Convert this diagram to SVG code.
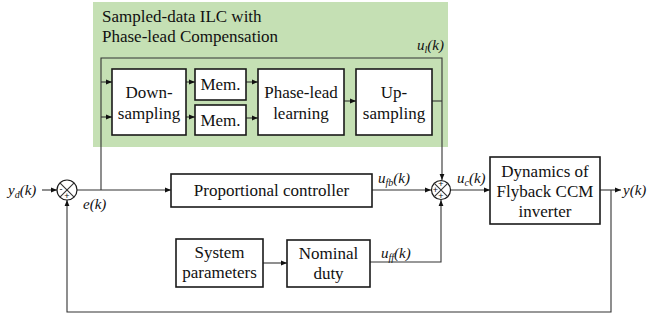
<svg xmlns="http://www.w3.org/2000/svg" width="647" height="320" viewBox="0 0 647 320" style="font-family:'Liberation Serif',serif !important">
  <style>
    text, tspan { font-family: 'Liberation Serif', serif !important; }
    .sign { font-family: 'Liberation Sans', sans-serif !important; font-size: 9px; text-anchor: middle; }
    .blk { fill: #ffffff; stroke: #1a1a1a; stroke-width: 1.6; }
  </style>
  <defs>
    <marker id="arr" viewBox="0 0 10 10" refX="10" refY="5" markerWidth="6" markerHeight="6" orient="auto" markerUnits="userSpaceOnUse">
      <path d="M0,1 L10,5 L0,9 Z" fill="#111111"/>
    </marker>
  </defs>

  <!-- ILC region background -->
  <g id="ilc-region" fill="#111111">
    <rect x="93" y="2" width="355" height="145" fill="#c5e0b4"/>
    <text style="font-family:'Liberation Serif',serif !important" font-family="Liberation Serif" font-size="17" x="102" y="22">Sampled-data ILC with</text>
    <text style="font-family:'Liberation Serif',serif !important" font-family="Liberation Serif" font-size="17" x="102" y="42">Phase-lead Compensation</text>
  </g>

  <!-- connectors -->
  <g id="connectors" fill="none" stroke="#333333" stroke-width="1.1">
    <path d="M101,190 V58 H442 V180" marker-end="url(#arr)"/>
    <path d="M101,82 H112" marker-end="url(#arr)"/>
    <path d="M101,117 H112" marker-end="url(#arr)"/>
    <path d="M186,82 H195" marker-end="url(#arr)"/>
    <path d="M186,117 H195" marker-end="url(#arr)"/>
    <path d="M246,82 H258" marker-end="url(#arr)"/>
    <path d="M246,118 H258" marker-end="url(#arr)"/>
    <path d="M344,101 H356" marker-end="url(#arr)"/>
    <path d="M432,101 H442"/>
    <path d="M42,190 H57" marker-end="url(#arr)"/>
    <path d="M77,190 H171" marker-end="url(#arr)"/>
    <path d="M372,190 H431" marker-end="url(#arr)"/>
    <path d="M451,190 H490" marker-end="url(#arr)"/>
    <path d="M600,190 H621" marker-end="url(#arr)"/>
    <path d="M611,190 V312 H67 V200" marker-end="url(#arr)"/>
    <path d="M263,263 H287" marker-end="url(#arr)"/>
    <path d="M370,262 H441 V200" marker-end="url(#arr)"/>
  </g>

  <!-- blocks: white boxes with centred serif labels -->
  <g id="blocks" text-anchor="middle" fill="#111111">
    <g id="down-sampling">
      <rect class="blk" x="112" y="69" width="74" height="66"/>
      <text style="font-family:'Liberation Serif',serif !important" font-family="Liberation Serif" font-size="17" x="149" y="98">Down-</text>
      <text style="font-family:'Liberation Serif',serif !important" font-family="Liberation Serif" font-size="17" x="149" y="119">sampling</text>
    </g>
    <g id="mem-1">
      <rect class="blk" x="195" y="69" width="51" height="31"/>
      <text style="font-family:'Liberation Serif',serif !important" font-family="Liberation Serif" font-size="17" x="220.5" y="90">Mem.</text>
    </g>
    <g id="mem-2">
      <rect class="blk" x="195" y="105" width="51" height="30"/>
      <text style="font-family:'Liberation Serif',serif !important" font-family="Liberation Serif" font-size="17" x="220.5" y="126">Mem.</text>
    </g>
    <g id="phase-lead-learning">
      <rect class="blk" x="258" y="69" width="86" height="66"/>
      <text style="font-family:'Liberation Serif',serif !important" font-family="Liberation Serif" font-size="17" x="301" y="98">Phase-lead</text>
      <text style="font-family:'Liberation Serif',serif !important" font-family="Liberation Serif" font-size="17" x="301" y="119">learning</text>
    </g>
    <g id="up-sampling">
      <rect class="blk" x="356" y="69" width="76" height="66"/>
      <text style="font-family:'Liberation Serif',serif !important" font-family="Liberation Serif" font-size="17" x="394" y="98">Up-</text>
      <text style="font-family:'Liberation Serif',serif !important" font-family="Liberation Serif" font-size="17" x="394" y="119">sampling</text>
    </g>
    <g id="proportional-controller">
      <rect class="blk" x="171" y="174" width="201" height="33"/>
      <text style="font-family:'Liberation Serif',serif !important" font-family="Liberation Serif" font-size="17" x="271.5" y="196">Proportional controller</text>
    </g>
    <g id="plant">
      <rect class="blk" x="490" y="157" width="110" height="67"/>
      <text style="font-family:'Liberation Serif',serif !important" font-family="Liberation Serif" font-size="17" x="545" y="177">Dynamics of</text>
      <text style="font-family:'Liberation Serif',serif !important" font-family="Liberation Serif" font-size="17" x="545" y="197">Flyback CCM</text>
      <text style="font-family:'Liberation Serif',serif !important" font-family="Liberation Serif" font-size="17" x="545" y="217">inverter</text>
    </g>
    <g id="system-parameters">
      <rect class="blk" x="176" y="239" width="87" height="48"/>
      <text style="font-family:'Liberation Serif',serif !important" font-family="Liberation Serif" font-size="17" x="219.5" y="258">System</text>
      <text style="font-family:'Liberation Serif',serif !important" font-family="Liberation Serif" font-size="17" x="219.5" y="278">parameters</text>
    </g>
    <g id="nominal-duty">
      <rect class="blk" x="287" y="240" width="83" height="47"/>
      <text style="font-family:'Liberation Serif',serif !important" font-family="Liberation Serif" font-size="17" x="328.5" y="259">Nominal</text>
      <text style="font-family:'Liberation Serif',serif !important" font-family="Liberation Serif" font-size="17" x="328.5" y="279">duty</text>
    </g>
  </g>

  <!-- summing junctions -->
  <g id="sum-error" fill="#111111">
    <circle cx="67" cy="190" r="10" fill="#ffffff" stroke="#1a1a1a" stroke-width="1.2"/>
    <path d="M59.9,182.9 L74.1,197.1 M74.1,182.9 L59.9,197.1" stroke="#333333" stroke-width="1.1"/>
    <text class="sign" x="61" y="192">-</text>
    <text class="sign" x="67" y="199">+</text>
  </g>
  <g id="sum-control" fill="#111111">
    <circle cx="441" cy="190" r="9.5" fill="#ffffff" stroke="#1a1a1a" stroke-width="1.2"/>
    <path d="M434.3,183.3 L447.7,196.7 M447.7,183.3 L434.3,196.7" stroke="#333333" stroke-width="1.1"/>
    <text class="sign" x="441" y="187">+</text>
    <text class="sign" x="435.5" y="193">+</text>
    <text class="sign" x="441" y="199">+</text>
  </g>

  <!-- signal labels -->
  <g id="signal-labels" font-style="italic" fill="#111111">
    <text style="font-family:'Liberation Serif',serif !important" font-family="Liberation Serif" font-size="15" x="8" y="195">y<tspan font-size="10" dy="3">d</tspan><tspan dy="-3">(k)</tspan></text>
    <text style="font-family:'Liberation Serif',serif !important" font-family="Liberation Serif" font-size="15" x="83" y="209">e(k)</text>
    <text style="font-family:'Liberation Serif',serif !important" font-family="Liberation Serif" font-size="15" x="417" y="50">u<tspan font-size="10" dy="3">l</tspan><tspan dy="-3">(k)</tspan></text>
    <text style="font-family:'Liberation Serif',serif !important" font-family="Liberation Serif" font-size="15" x="378" y="183">u<tspan font-size="10" dy="3">fb</tspan><tspan dy="-3">(k)</tspan></text>
    <text style="font-family:'Liberation Serif',serif !important" font-family="Liberation Serif" font-size="15" x="457" y="183">u<tspan font-size="10" dy="3">c</tspan><tspan dy="-3">(k)</tspan></text>
    <text style="font-family:'Liberation Serif',serif !important" font-family="Liberation Serif" font-size="15" x="381" y="258">u<tspan font-size="10" dy="3">ff</tspan><tspan dy="-3">(k)</tspan></text>
    <text style="font-family:'Liberation Serif',serif !important" font-family="Liberation Serif" font-size="15" x="623" y="195">y(k)</text>
  </g>
</svg>
